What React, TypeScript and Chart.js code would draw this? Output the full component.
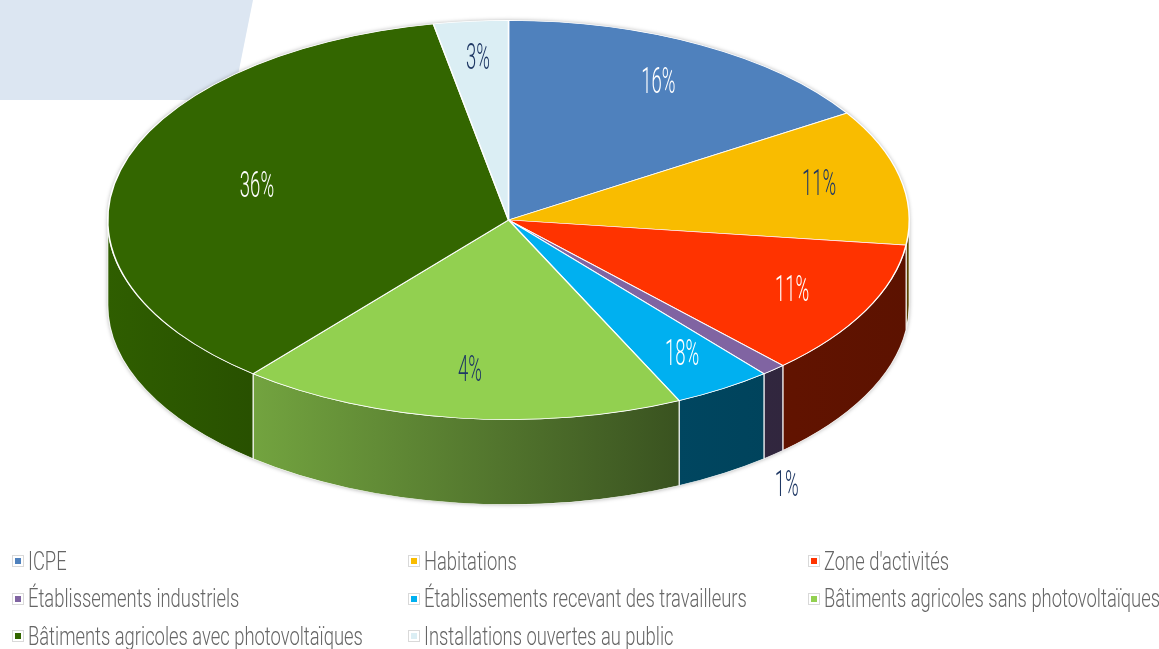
import React, { useEffect, useRef } from "react";
import { Chart, registerables } from "chart.js";

Chart.register(...registerables);

// ---- data ----
const categories = [
  "ICPE",
  "Habitations",
  "Zone d'activités",
  "Établissements industriels",
  "Établissements recevant des travailleurs",
  "Bâtiments agricoles sans photovoltaïques",
  "Bâtiments agricoles avec photovoltaïques",
  "Installations ouvertes au public",
];
const values = [16, 11, 11, 1, 4, 18, 36, 3];
const labelTexts = ["16%", "11%", "11%", "1%", "18%", "4%", "36%", "3%"];
const colors = ["#4f81bd", "#f9bc00", "#ff3300", "#8064a2", "#00b0f0", "#92d050", "#336600", "#dbeef4"];
const labelColors = ["#ffffff", "#1f3864", "#ffffff", "#1f3864", "#ffffff", "#1f3864", "#ffffff", "#1f3864"];

// ---- styling ----
const SQUASH = 0.498;
const TOP_CY = 220;
const DEPTH = 85;
const LABEL_FRAC = 0.81;
const FONT_FAMILY = "Roboto, 'DejaVu Sans', sans-serif";

function hexToRgb(h: string) {
  const n = parseInt(h.slice(1), 16);
  return [(n >> 16) & 255, (n >> 8) & 255, n & 255];
}
function shade(h: string, f: number) {
  const [r, g, b] = hexToRgb(h);
  return `rgb(${Math.round(r * f)},${Math.round(g * f)},${Math.round(b * f)})`;
}

const pie3d = {
  id: "pie3d",
  beforeDatasetsDraw(chart: any) {
    const ctx = chart.ctx as CanvasRenderingContext2D;
    const arcs = chart.getDatasetMeta(0).data as any[];
    if (!arcs.length) return;
    const cx = arcs[0].x, cy = arcs[0].y, R = arcs[0].outerRadius;
    ctx.save();
    ctx.translate(0, TOP_CY);
    ctx.scale(1, SQUASH);
    ctx.translate(0, -cy);
    const d = DEPTH / SQUASH;

    // silhouette shadow
    ctx.save();
    ctx.beginPath();
    ctx.arc(cx, cy, R, Math.PI, 2 * Math.PI);
    ctx.lineTo(cx + R, cy + d);
    ctx.arc(cx, cy + d, R, 0, Math.PI);
    ctx.closePath();
    ctx.shadowColor = "rgba(0,0,0,0.35)";
    ctx.shadowBlur = 4;
    ctx.fillStyle = "#ffffff";
    ctx.fill();
    ctx.restore();

    arcs.forEach((arc: any, i: number) => {
      const a1 = Math.max(arc.startAngle, 0);
      const a2 = Math.min(arc.endAngle, Math.PI);
      if (a2 <= a1) return;
      const g = ctx.createLinearGradient(cx - R, 0, cx + R, 0);
      g.addColorStop(0, shade(colors[i], 0.92));
      g.addColorStop(0.71, shade(colors[i], 0.4));
      g.addColorStop(1, shade(colors[i], 0.36));
      ctx.beginPath();
      ctx.arc(cx, cy, R, a1, a2);
      ctx.lineTo(cx + R * Math.cos(a2), cy + R * Math.sin(a2) + d);
      ctx.arc(cx, cy + d, R, a2, a1, true);
      ctx.closePath();
      ctx.fillStyle = g;
      ctx.fill();
      ctx.strokeStyle = "rgba(255,255,255,0.85)";
      ctx.lineWidth = 1.2;
      ctx.stroke();
    });
  },
  afterDatasetsDraw(chart: any) {
    const ctx = chart.ctx as CanvasRenderingContext2D;
    ctx.restore();
    const arcs = chart.getDatasetMeta(0).data as any[];
    if (!arcs.length) return;
    const cx = arcs[0].x, R = arcs[0].outerRadius;
    arcs.forEach((arc: any, i: number) => {
      const mid = (arc.startAngle + arc.endAngle) / 2;
      const half = (arc.endAngle - arc.startAngle) / 2;
      let px: number, py: number;
      if (values[i] < 2) {
        px = cx + Math.cos(mid) * R * 1.05;
        py = TOP_CY + Math.sin(mid) * R * SQUASH * 1.05 + DEPTH + 25;
      } else {
        const f = LABEL_FRAC * (Math.sin(half) / half);
        px = cx + Math.cos(mid) * R * f;
        py = TOP_CY + Math.sin(mid) * R * SQUASH * f;
      }
      ctx.save();
      ctx.translate(px, py);
      ctx.scale(0.5, 1);
      ctx.font = `300 37px ${FONT_FAMILY}`;
      ctx.textAlign = "center";
      ctx.textBaseline = "middle";
      ctx.fillStyle = labelColors[i];
      ctx.fillText(labelTexts[i], 0, 0);
      ctx.restore();
    });
  },
};

const legendCols = [12, 408, 808];
const legendRowBaselines = [570, 607.5, 645];

export default function App() {
  const ref = useRef<HTMLCanvasElement | null>(null);
  useEffect(() => {
    if (!ref.current) return;
    const chart = new Chart(ref.current, {
      type: "pie",
      data: {
        labels: categories,
        datasets: [
          {
            data: values,
            backgroundColor: colors,
            borderColor: "#ffffff",
            borderWidth: 1.5,
            clip: false as any,
          },
        ],
      },
      options: {
        responsive: false,
        maintainAspectRatio: false,
        animation: false,
        events: [],
        layout: { padding: { left: 107, right: 249, top: 10, bottom: 17 } },
        plugins: { legend: { display: false }, tooltip: { enabled: false } },
      },
      plugins: [pie3d],
    });
    return () => chart.destroy();
  }, []);

  return (
    <div style={{ position: "absolute", left: 0, top: 0, width: 1159, height: 649, overflow: "hidden", background: "#ffffff" }}>
      <div
        style={{
          position: "absolute",
          left: 0,
          top: 0,
          width: 260,
          height: 100,
          background: "#dce6f2",
          clipPath: "polygon(0 0, 253px 0, 233px 100px, 0 100px)",
        }}
      />
      <canvas ref={ref} width={1159} height={830} style={{ position: "absolute", left: 0, top: 0, width: 1159, height: 830 }} />
      {categories.map((c, i) => {
        const col = i % 3;
        const row = Math.floor(i / 3);
        const left = legendCols[col];
        const base = legendRowBaselines[row];
        const center = base - 9;
        return (
          <React.Fragment key={c}>
            <div
              style={{
                position: "absolute",
                left,
                top: center - 6,
                width: 10,
                height: 10,
                border: "1px solid #d9d9d9",
                background: "#ffffff",
              }}
            >
              <div style={{ position: "absolute", left: 2, top: 2, width: 6, height: 6, background: colors[i] }} />
            </div>
            <div
              style={{
                position: "absolute",
                left: left + 16,
                top: base - 23.5,
                height: 30,
                lineHeight: "30px",
                font: `300 25px ${FONT_FAMILY}`,
                color: "#666666",
                whiteSpace: "nowrap",
                transform: "scaleX(0.735)",
                transformOrigin: "left center",
              }}
            >
              {c}
            </div>
          </React.Fragment>
        );
      })}
    </div>
  );
}
